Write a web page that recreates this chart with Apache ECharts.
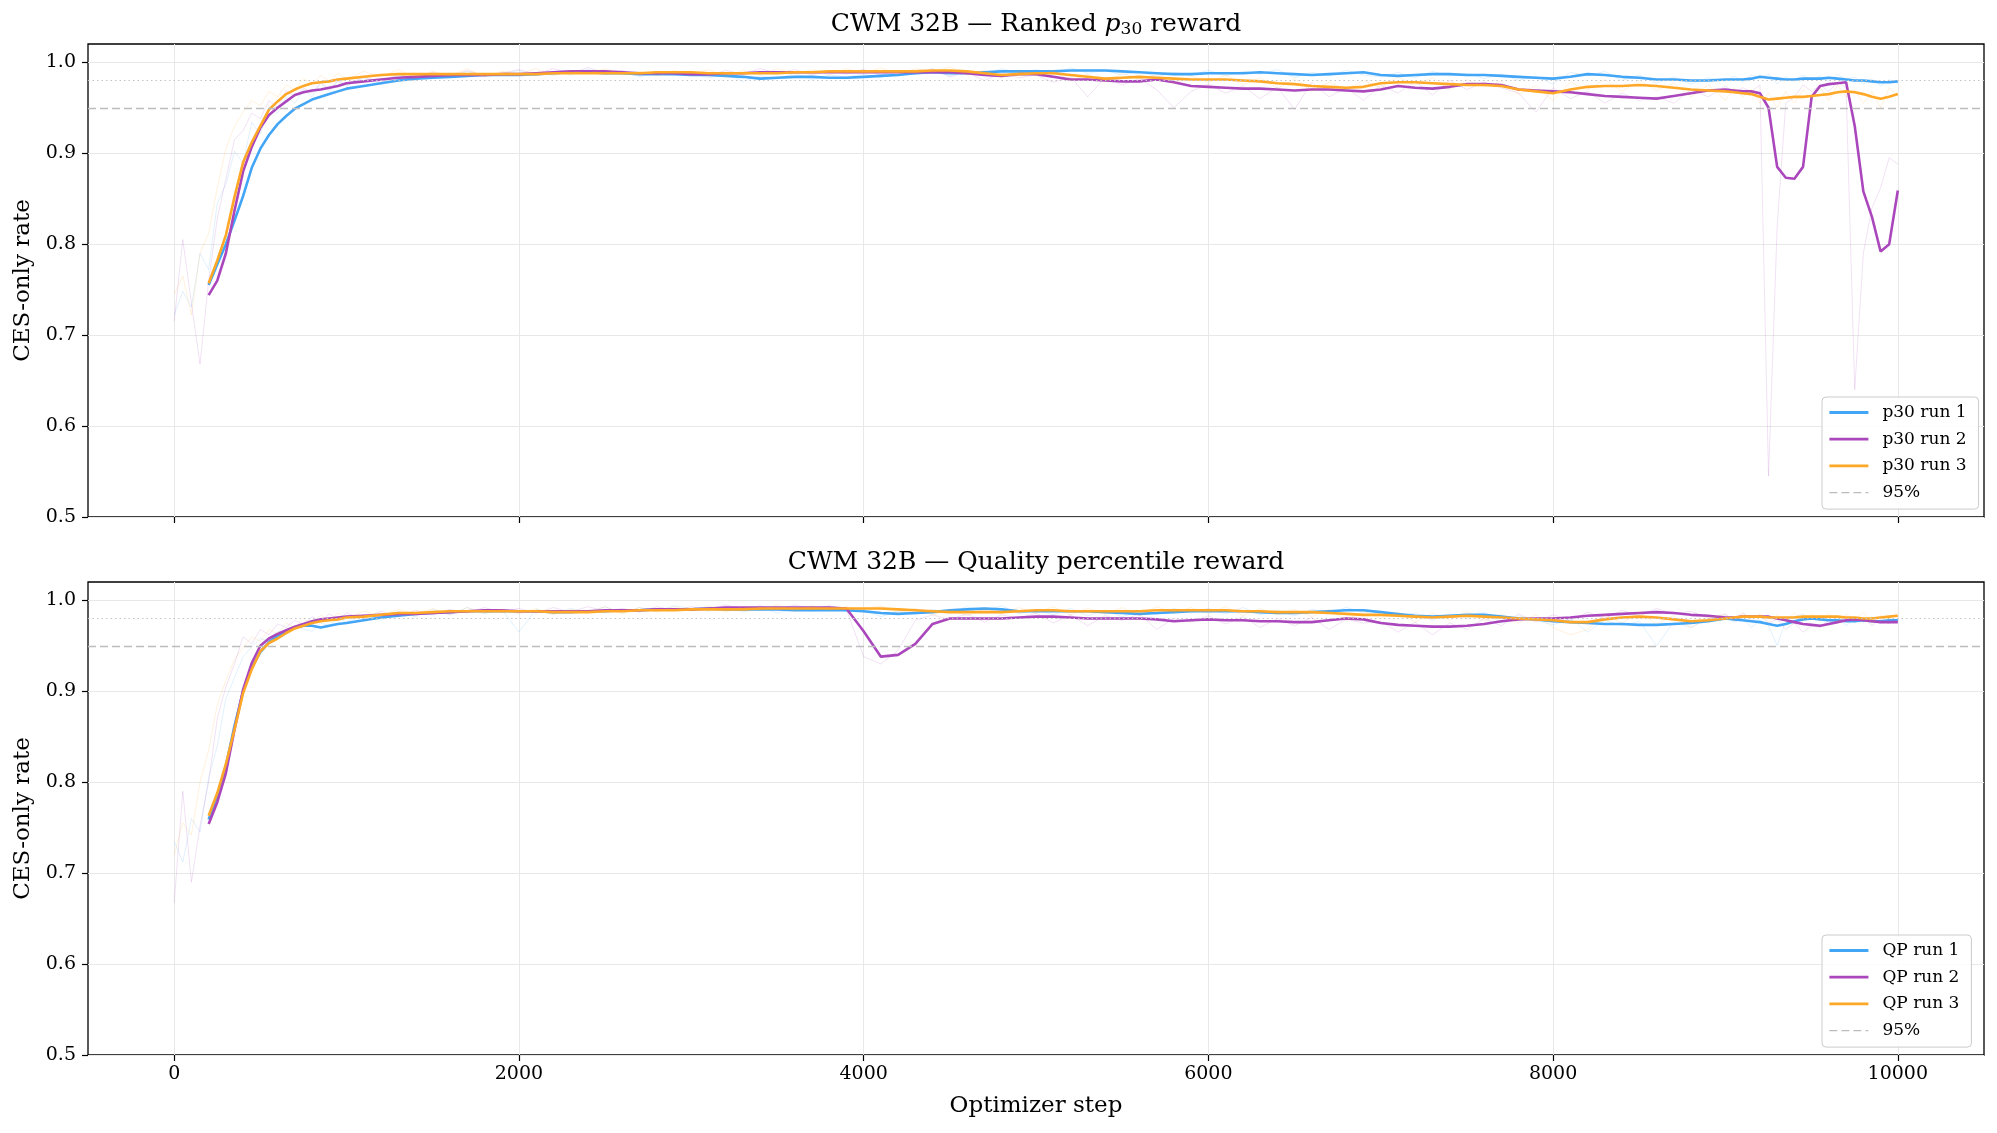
<!DOCTYPE html>
<html>
<head>
<meta charset="UTF-8">
<title>CWM 32B CES-only rate</title>
<style>html,body{margin:0;padding:0;background:#fff;} #charts{width:1997px;height:1133px;}</style>
</head>
<body>
<div id="charts"></div>
<script src="https://cdn.jsdelivr.net/npm/echarts@6.0.0/dist/echarts.min.js"></script>
<script>
var FONT = 'DejaVu Serif';
var runColors = ['#42A5F5', '#AB47BC', '#FFA726'];
var xTicks = [0, 2000, 4000, 6000, 8000, 10000];
var yTicks = [0.5, 0.6, 0.7, 0.8, 0.9, 1.0];
var TARGET = 0.95;   // dashed "95%" line
var REF = 0.98;      // dotted reference line

function range(a, b, d) { var r = []; for (var v = a; v <= b; v += d) r.push(v); return r; }
// smoothed curves start at step 200, raw logs at step 0
var smoothSteps = range(200, 950, 50).concat(range(1000, 8900, 100), range(9000, 10000, 50));
var rawSteps = range(0, 950, 50).concat(range(1000, 8900, 100), range(9000, 10000, 50));

// ---- top panel: ranked p30 reward (smoothed) ----
var p30Run1 = [
  .755,.778,.800,.826,.853,.884,.905,.920,.932,.941,.949,.954,.959,.962,.965,.968,
  .971,.974,.977,.980,.982,.983,.984,.985,.986,.986,
  .986,.987,.988,.989,.989,.988,.988,.987,.987,.987,
  .986,.986,.985,.984,.982,.983,.984,.984,.983,.983,
  .984,.985,.986,.988,.989,.988,.988,.989,.990,.990,
  .990,.990,.991,.991,.991,.990,.989,.988,.987,.987,
  .988,.988,.988,.989,.988,.987,.986,.987,.988,.989,
  .986,.985,.986,.987,.987,.986,.986,.985,.984,.983,
  .982,.984,.987,.986,.984,.983,.981,.981,.980,.980,
  .981,.981,.981,.982,.984,.983,.982,.981,.981,.982,.982,
  .982,.983,.982,.981,.980,.980,.979,.978,.978,.979
];
var p30Run2 = [
  .744,.760,.790,.837,.880,.907,.928,.942,.950,.957,.964,.967,.969,.970,.972,.974,
  .977,.979,.981,.983,.984,.985,.986,.986,.986,.987,
  .987,.988,.989,.990,.990,.990,.989,.988,.988,.988,
  .987,.987,.988,.988,.989,.989,.989,.989,.989,.989,
  .989,.989,.989,.989,.989,.989,.988,.986,.985,.987,
  .987,.984,.981,.981,.980,.979,.979,.981,.978,.974,
  .973,.972,.971,.971,.970,.969,.970,.970,.969,.968,
  .970,.974,.972,.971,.973,.976,.976,.975,.970,.969,
  .968,.967,.965,.963,.962,.961,.960,.963,.966,.969,
  .970,.969,.968,.968,.966,.950,.885,.873,.872,.885,.962,
  .974,.976,.977,.978,.930,.858,.830,.792,.800,.859
];
var p30Run3 = [
  .757,.782,.810,.852,.890,.912,.930,.948,.957,.965,.970,.974,.977,.978,.979,.981,
  .982,.984,.986,.987,.987,.987,.987,.987,.987,.987,
  .987,.987,.988,.988,.988,.988,.988,.988,.989,.989,
  .989,.988,.988,.988,.988,.988,.989,.989,.990,.990,
  .990,.990,.990,.990,.991,.991,.990,.988,.986,.987,
  .988,.988,.986,.984,.982,.983,.984,.983,.982,.981,
  .981,.981,.980,.979,.977,.976,.974,.973,.972,.973,
  .977,.978,.978,.977,.976,.975,.975,.974,.970,.968,
  .966,.970,.973,.974,.974,.975,.974,.972,.970,.969,
  .968,.967,.966,.965,.962,.959,.960,.961,.962,.962,.963,
  .964,.965,.967,.968,.967,.965,.962,.960,.962,.965
];

// ---- top panel: raw per-step rate ----
var p30Raw1 = [
  .722,.748,.731,.790,.772,.845,.866,.902,.889,.934,
  .921,.951,.944,.962,.955,.970,.962,.977,.968,.979,
  .974,.983,.976,.986,.980,.988,.983,.990,.984,.987,
  .991,.985,.990,.986,.992,.987,.990,.984,.989,.986,
  .988,.983,.987,.979,.985,.982,.988,.981,.986,.984,
  .987,.983,.990,.986,.992,.985,.990,.987,.993,.988,
  .992,.987,.994,.988,.991,.986,.990,.984,.989,.986,
  .991,.985,.990,.987,.992,.983,.989,.985,.991,.986,
  .984,.989,.983,.990,.985,.988,.982,.987,.980,.985,
  .976,.989,.985,.990,.980,.986,.977,.984,.976,.983,
  .979,.985,.978,.986,.982,.987,.976,.984,.979,.986,.980,
  .985,.979,.987,.981,.984,.976,.982,.974,.981,.977
];
var p30Raw2 = [
  .715,.805,.735,.668,.760,.828,.872,.915,.925,.944,
  .938,.958,.950,.969,.962,.972,.966,.978,.970,.980,
  .975,.984,.978,.987,.982,.989,.984,.991,.985,.988,
  .992,.987,.993,.988,.994,.989,.991,.986,.990,.987,
  .990,.985,.991,.987,.993,.988,.992,.986,.991,.987,
  .992,.986,.991,.988,.993,.984,.989,.980,.988,.983,
  .986,.978,.984,.962,.983,.975,.982,.970,.950,.968,
  .976,.966,.974,.960,.973,.948,.978,.962,.972,.958,
  .975,.966,.979,.964,.980,.970,.978,.972,.966,.945,
  .972,.960,.968,.955,.966,.958,.962,.955,.970,.962,
  .974,.966,.972,.968,.975,.545,.820,.955,.962,.975,.968,
  .975,.968,.978,.972,.640,.790,.840,.862,.895,.888
];
var p30Raw3 = [
  .745,.765,.722,.790,.812,.862,.905,.930,.945,.958,
  .952,.968,.962,.975,.970,.982,.976,.986,.979,.988,
  .981,.990,.984,.992,.983,.990,.985,.993,.984,.990,
  .987,.993,.985,.991,.988,.993,.986,.990,.985,.991,
  .987,.992,.984,.991,.986,.993,.987,.992,.986,.993,
  .988,.994,.987,.993,.989,.995,.986,.991,.983,.990,
  .985,.991,.980,.987,.978,.988,.982,.986,.977,.985,
  .978,.986,.975,.983,.971,.982,.968,.978,.970,.980,
  .972,.984,.975,.983,.970,.981,.973,.979,.965,.974,
  .958,.978,.970,.981,.968,.980,.969,.977,.962,.975,
  .958,.972,.962,.970,.955,.966,.950,.968,.955,.970,.960,
  .972,.958,.975,.962,.970,.955,.968,.950,.972,.962
];

// ---- bottom panel: quality percentile reward (smoothed) ----
var qpRun1 = [
  .759,.785,.818,.862,.900,.926,.943,.954,.961,.966,.970,.972,.972,.970,.972,.974,
  .975,.978,.981,.983,.985,.986,.987,.988,.988,.988,
  .988,.988,.987,.987,.988,.988,.989,.989,.990,.990,
  .990,.991,.990,.990,.990,.990,.989,.989,.989,.989,
  .988,.986,.985,.986,.987,.989,.990,.991,.990,.988,
  .988,.988,.988,.988,.987,.986,.985,.986,.987,.988,
  .988,.988,.988,.987,.986,.986,.987,.988,.989,.989,
  .987,.985,.983,.982,.983,.984,.984,.982,.980,.979,
  .977,.976,.975,.974,.974,.973,.973,.974,.975,.977,
  .980,.979,.978,.977,.976,.974,.972,.974,.977,.979,.980,
  .979,.978,.978,.977,.977,.978,.977,.977,.978,.978
];
var qpRun2 = [
  .754,.778,.810,.858,.902,.931,.950,.958,.963,.967,.971,.974,.977,.979,.980,.981,
  .982,.983,.984,.985,.985,.986,.987,.988,.989,.989,
  .988,.988,.988,.988,.988,.989,.989,.989,.990,.990,
  .990,.991,.992,.992,.992,.992,.992,.992,.992,.991,
  .966,.938,.940,.952,.974,.980,.980,.980,.980,.981,
  .982,.982,.981,.980,.980,.980,.980,.979,.977,.978,
  .979,.978,.978,.977,.977,.976,.976,.978,.980,.979,
  .975,.973,.972,.971,.971,.972,.974,.977,.979,.980,
  .980,.981,.983,.984,.985,.986,.987,.986,.984,.983,
  .981,.981,.982,.982,.982,.982,.980,.978,.976,.974,.973,
  .972,.974,.976,.978,.979,.978,.977,.976,.976,.976
];
var qpRun3 = [
  .763,.788,.820,.858,.898,.924,.944,.953,.958,.964,.969,.972,.975,.977,.978,.979,
  .981,.982,.984,.986,.986,.987,.988,.988,.988,.988,
  .988,.988,.987,.987,.987,.988,.988,.989,.989,.989,
  .990,.990,.990,.990,.991,.991,.991,.991,.991,.991,
  .991,.991,.990,.989,.988,.987,.987,.987,.987,.988,
  .989,.989,.988,.988,.988,.988,.988,.989,.989,.989,
  .989,.989,.988,.988,.987,.987,.987,.986,.985,.984,
  .984,.983,.982,.981,.982,.983,.982,.981,.980,.979,
  .978,.976,.976,.979,.981,.982,.981,.979,.977,.978,
  .980,.981,.982,.982,.982,.981,.981,.981,.981,.982,.982,
  .982,.982,.982,.981,.981,.980,.980,.981,.982,.983
];

// ---- bottom panel: raw ----
var qpRaw1 = [
  .735,.712,.760,.745,.805,.840,.892,.915,.938,.949,
  .958,.955,.966,.962,.972,.968,.966,.975,.972,.980,
  .976,.984,.978,.988,.982,.990,.984,.992,.985,.990,
  .965,.990,.985,.991,.987,.993,.986,.992,.988,.994,
  .991,.988,.993,.987,.992,.986,.991,.988,.993,.987,
  .990,.982,.988,.984,.990,.986,.993,.988,.994,.985,
  .990,.984,.991,.983,.989,.982,.988,.984,.991,.986,
  .991,.985,.992,.984,.989,.983,.990,.986,.992,.987,
  .988,.982,.986,.978,.985,.980,.987,.975,.983,.978,
  .973,.980,.965,.978,.972,.977,.950,.976,.970,.980,
  .983,.976,.980,.970,.978,.972,.950,.978,.982,.985,.979,
  .983,.975,.981,.972,.980,.976,.982,.974,.979,.976
];
var qpRaw2 = [
  .667,.790,.690,.752,.800,.870,.905,.930,.960,.952,
  .968,.962,.974,.970,.978,.973,.982,.977,.985,.979,
  .986,.980,.988,.982,.989,.984,.990,.986,.992,.987,
  .991,.986,.992,.987,.993,.988,.991,.987,.993,.989,
  .993,.989,.995,.990,.994,.989,.995,.990,.994,.990,
  .938,.930,.945,.978,.984,.979,.985,.976,.984,.980,
  .986,.975,.984,.972,.983,.978,.985,.968,.980,.976,
  .983,.974,.982,.970,.980,.972,.981,.968,.979,.975,
  .977,.965,.976,.962,.975,.968,.980,.972,.985,.976,
  .984,.978,.987,.980,.989,.983,.991,.985,.988,.980,
  .985,.978,.986,.980,.984,.975,.979,.968,.975,.965,.972,
  .970,.978,.975,.983,.976,.981,.972,.979,.974,.980
];
var qpRaw3 = [
  .720,.755,.742,.800,.835,.885,.912,.935,.948,.960,
  .955,.968,.963,.975,.970,.980,.974,.984,.977,.986,
  .980,.988,.983,.990,.985,.991,.984,.992,.986,.990,
  .985,.991,.984,.990,.986,.993,.985,.992,.987,.993,
  .988,.994,.987,.993,.989,.995,.988,.994,.989,.993,
  .990,.994,.986,.991,.984,.990,.983,.991,.985,.992,
  .986,.993,.984,.991,.985,.992,.983,.993,.986,.992,
  .985,.993,.983,.991,.984,.990,.982,.990,.978,.988,
  .980,.987,.976,.986,.978,.988,.977,.985,.975,.984,
  .970,.962,.968,.984,.975,.987,.974,.983,.970,.981,
  .984,.977,.986,.978,.985,.976,.984,.977,.986,.978,.985,
  .977,.986,.976,.985,.978,.987,.975,.984,.979,.987
];

var panels = [
  { title: 'CWM 32B \u2014 Ranked {i|p}{sub|30} reward', names: ['p30 run 1', 'p30 run 2', 'p30 run 3'],
    smooth: [p30Run1, p30Run2, p30Run3], raw: [p30Raw1, p30Raw2, p30Raw3] },
  { title: 'CWM 32B \u2014 Quality percentile reward', names: ['QP run 1', 'QP run 2', 'QP run 3'],
    smooth: [qpRun1, qpRun2, qpRun3], raw: [qpRaw1, qpRaw2, qpRaw3] }
];

var gridTops = [44, 582];
var gridHeight = 473;
var Y_MAX = 1.0201;

function zip(steps, vals) { return steps.map(function (s, i) { return [s, vals[i]]; }); }

var titles = [], grids = [], xAxes = [], yAxes = [], legends = [], series = [];

panels.forEach(function (p, k) {
  titles.push({
    text: p.title, left: 1036, textAlign: 'center', top: gridTops[k] - 35, padding: 0,
    textStyle: {
      fontFamily: FONT, fontSize: 25, fontWeight: 'normal', color: '#000', lineHeight: 30,
      rich: {
        i: { fontFamily: FONT, fontStyle: 'italic', fontSize: 25, lineHeight: 30, color: '#000' },
        sub: { fontFamily: FONT, fontSize: 17, lineHeight: 17, padding: [11, 0, 0, 0], color: '#000' }
      }
    }
  });
  grids.push({
    left: 88, right: 13, top: gridTops[k], height: gridHeight, show: true,
    borderColor: '#000', borderWidth: 1.3, backgroundColor: 'transparent', outerBoundsMode: 'none'
  });
  xAxes.push({
    type: 'value', gridIndex: k, min: -500, max: 10500,
    axisLine: { show: false, onZero: false },
    axisTick: { show: true, inside: false, length: 6, lineStyle: { color: '#000', width: 1.2 }, customValues: xTicks },
    axisLabel: { show: k === 1, customValues: xTicks, formatter: function (v) { return String(v); },
      fontFamily: FONT, fontSize: 19, color: '#000', margin: 10 },
    splitLine: { show: true, lineStyle: { color: '#e8e8e8', width: 1 } },
    name: k === 1 ? 'Optimizer step' : '', nameLocation: 'middle', nameGap: 40,
    nameTextStyle: { fontFamily: FONT, fontSize: 23, color: '#000' }
  });
  yAxes.push({
    type: 'value', gridIndex: k, min: 0.5, max: Y_MAX,
    axisLine: { show: false, onZero: false },
    axisTick: { show: true, inside: false, length: 6, lineStyle: { color: '#000', width: 1.2 }, customValues: yTicks },
    axisLabel: { customValues: yTicks, formatter: function (v) { return v.toFixed(1); },
      fontFamily: FONT, fontSize: 19, color: '#000', margin: 12 },
    splitLine: { show: true, lineStyle: { color: '#e8e8e8', width: 1 } },
    name: 'CES-only rate', nameLocation: 'middle', nameGap: 52,
    nameTextStyle: { fontFamily: FONT, fontSize: 23, color: '#000' }
  });
  var legendItems = p.names.map(function (n) { return { name: n, lineStyle: { width: 2.8 } }; });
  legendItems.push({ name: '95%', lineStyle: { width: 1.3 } });
  legends.push({
    data: legendItems, orient: 'vertical', left: 1822, top: gridTops[k] + 353,
    itemWidth: 39, itemHeight: 14, itemGap: 9.7, padding: [7, 12, 8, 6],
    itemStyle: { opacity: 0 },
    backgroundColor: 'rgba(255,255,255,0.85)', borderColor: '#cccccc', borderWidth: 1, borderRadius: 4,
    textStyle: { fontFamily: FONT, fontSize: 17, lineHeight: 17, color: '#000', padding: [0, 0, 0, 9] }
  });

  // reference lines
  series.push({
    name: 'ref98', type: 'line', xAxisIndex: k, yAxisIndex: k, data: [], silent: true,
    markLine: { silent: true, symbol: ['none', 'none'], label: { show: false },
      lineStyle: { color: '#c4c4c4', type: [1.5, 3], width: 1.1 }, data: [{ yAxis: REF }] }
  });
  series.push({
    name: '95%', type: 'line', xAxisIndex: k, yAxisIndex: k, data: [], silent: true,
    symbol: 'none', lineStyle: { color: '#bdbdbd', type: [8, 4], width: 1.3 }, itemStyle: { color: '#bdbdbd' },
    markLine: { silent: true, symbol: ['none', 'none'], label: { show: false },
      lineStyle: { color: '#bdbdbd', type: [8, 4], width: 1.3 }, data: [{ yAxis: TARGET }] }
  });

  p.names.forEach(function (name, r) {
    series.push({
      name: name + ' raw', type: 'line', xAxisIndex: k, yAxisIndex: k, silent: true,
      symbol: 'none', showSymbol: false,
      lineStyle: { color: runColors[r], width: 0.9, opacity: 0.18 },
      data: zip(rawSteps, p.raw[r])
    });
    series.push({
      name: name, type: 'line', xAxisIndex: k, yAxisIndex: k, silent: true,
      symbol: 'none', showSymbol: false,
      lineStyle: { color: runColors[r], width: 2.6 }, itemStyle: { color: runColors[r] },
      data: zip(smoothSteps, p.smooth[r])
    });
  });
});

var mycharts = echarts.init(document.getElementById('charts'));
mycharts.setOption({
  animation: false,
  backgroundColor: '#fff',
  textStyle: { fontFamily: FONT },
  title: titles,
  grid: grids,
  xAxis: xAxes,
  yAxis: yAxes,
  legend: legends,
  series: series
});
</script>
</body>
</html>
